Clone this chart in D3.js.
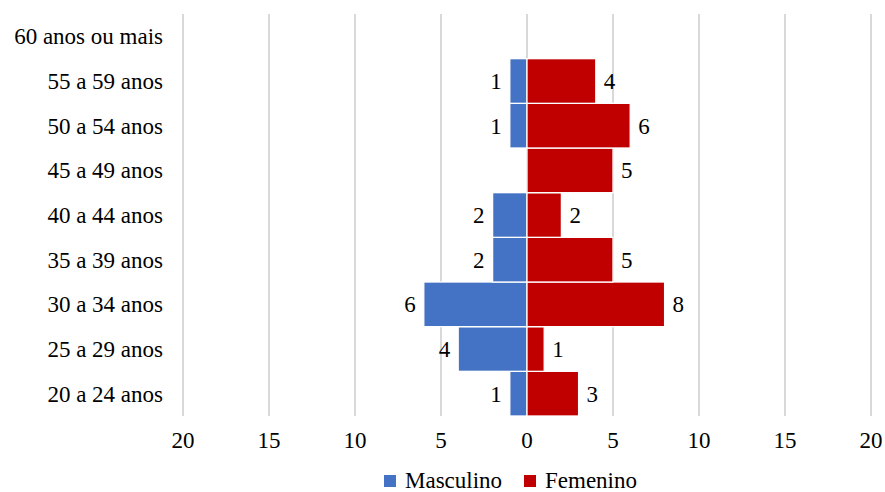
<!DOCTYPE html>
<html>
<head>
<meta charset="utf-8">
<script src="https://cdn.jsdelivr.net/npm/d3@7"></script>
<style>
  @font-face {
    font-family: "ChartSerif";
    src: local("Liberation Serif"), local("LiberationSerif"), local("LiberationSerif-Regular"), local("Times New Roman"), local("Tinos");
  }
</style>
</head>
<body style="margin:0">
<svg id="chart" width="885" height="492"></svg>
<script>
// Age groups, bottom to top
const ageGroups = ["20 a 24 anos", "25 a 29 anos", "30 a 34 anos", "35 a 39 anos",
  "40 a 44 anos", "45 a 49 anos", "50 a 54 anos", "55 a 59 anos", "60 anos ou mais"];
const masculino = [1, 4, 6, 2, 2, 0, 1, 1, 0];
const femenino  = [3, 1, 8, 5, 2, 5, 6, 4, 0];
const tickValues = [-20, -15, -10, -5, 0, 5, 10, 15, 20];
const seriesNames = ["Masculino", "Femenino"];
const colors = ["#4472C4", "#C00000"];

const FONT = '"Liberation Serif", "ChartSerif", "Times New Roman", Tinos, serif';
const FS = 23;

const svg = d3.select("#chart").style("font-family", FONT);
const plot = { left: 183, right: 871, top: 14, bottom: 416 };

const x = d3.scaleLinear().domain([-20, 20]).range([plot.left, plot.right]);
const y = d3.scaleBand().domain(ageGroups).range([plot.bottom, plot.top]).padding(0);

function serifText(sel) {
  sel.attr("font-size", FS).style("font-family", FONT).attr("fill", "#000");
}

// vertical gridlines
svg.append("g").selectAll("line").data(tickValues).join("line")
  .attr("x1", d => x(d)).attr("x2", d => x(d))
  .attr("y1", plot.top).attr("y2", plot.bottom)
  .attr("stroke", "#d9d9d9").attr("stroke-width", 2);

const rows = ageGroups.map((g, i) => ({ g, m: masculino[i], f: femenino[i] }));

// male bars (to the left)
svg.append("g").selectAll("rect").data(rows.filter(d => d.m > 0)).join("rect")
  .attr("x", d => x(-d.m)).attr("width", d => x(0) - x(-d.m))
  .attr("y", d => y(d.g)).attr("height", y.bandwidth())
  .attr("fill", colors[0]).attr("stroke", "#fff").attr("stroke-width", 1.3);

// female bars (to the right)
svg.append("g").selectAll("rect").data(rows.filter(d => d.f > 0)).join("rect")
  .attr("x", x(0)).attr("width", d => x(d.f) - x(0))
  .attr("y", d => y(d.g)).attr("height", y.bandwidth())
  .attr("fill", colors[1]).attr("stroke", "#fff").attr("stroke-width", 1.3);

// x tick labels (absolute values)
svg.append("g").selectAll("text").data(tickValues).join("text")
  .attr("x", d => x(d)).attr("y", plot.bottom + 32)
  .attr("text-anchor", "middle")
  .call(serifText).text(d => Math.abs(d));

// y category labels
svg.append("g").selectAll("text").data(ageGroups).join("text")
  .attr("x", plot.left - 20).attr("y", d => y(d) + y.bandwidth() / 2)
  .attr("dy", "0.35em").attr("text-anchor", "end")
  .call(serifText).text(d => d);

// value labels
svg.append("g").selectAll("text").data(rows.filter(d => d.m > 0)).join("text")
  .attr("x", d => x(-d.m) - 8).attr("y", d => y(d.g) + y.bandwidth() / 2)
  .attr("dy", "0.35em").attr("text-anchor", "end")
  .call(serifText).text(d => d.m);
svg.append("g").selectAll("text").data(rows.filter(d => d.f > 0)).join("text")
  .attr("x", d => x(d.f) + 8).attr("y", d => y(d.g) + y.bandwidth() / 2)
  .attr("dy", "0.35em").attr("text-anchor", "start")
  .call(serifText).text(d => d.f);

// legend
const legendItems = [{ name: seriesNames[0], color: colors[0], x: 384 }, { name: seriesNames[1], color: colors[1], x: 524 }];
const lg = svg.append("g");
legendItems.forEach(it => {
  lg.append("rect").attr("x", it.x).attr("y", 475).attr("width", 12).attr("height", 12).attr("fill", it.color);
  lg.append("text").attr("x", it.x + 21).attr("y", 480).attr("dy", "0.35em")
    .call(serifText).text(it.name);
});

// re-apply the font once the local face has been resolved
if (document.fonts && document.fonts.load) {
  document.fonts.load(FS + 'px "ChartSerif"').then(() => {
    svg.selectAll("text").style("font-family", FONT);
  }).catch(() => {});
}
</script>
</body>
</html>
